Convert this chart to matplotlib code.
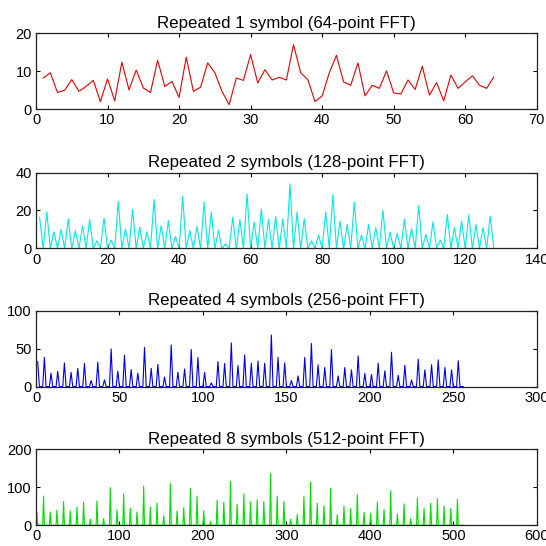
import numpy as np
import matplotlib
matplotlib.use("Agg")
import matplotlib.pyplot as plt

plt.rcParams['font.family'] = ['Liberation Sans', 'DejaVu Sans']

# peak heights (one value per original subcarrier)
peaks_1 = [8.2, 9.6, 4.4, 5.0, 7.8, 4.7, 6.0, 7.6, 2.0, 8.0, 2.2, 12.4, 5.1, 10.3, 5.6, 4.4,
           12.9, 6.0, 7.3, 3.1, 13.7, 4.7, 5.8, 12.2, 9.6, 4.7, 1.2, 8.2, 7.6, 14.4, 6.9, 10.4,
           7.7, 8.4, 7.7, 17.0, 9.6, 7.8, 2.0, 3.5, 9.6, 14.2, 7.2, 6.3, 12.2, 3.5, 6.3, 5.5,
           10.1, 4.3, 4.0, 7.7, 5.2, 11.3, 3.7, 7.0, 2.2, 9.0, 5.5, 7.2, 8.8, 6.3, 5.5, 8.5]
peaks_2 = [16.4, 19.2, 8.8, 10.0, 15.6, 9.4, 12.0, 15.2, 4.0, 16.0, 4.4, 24.8, 10.2, 20.6, 11.2, 8.8,
           25.8, 12.0, 14.6, 6.2, 27.4, 9.4, 11.6, 24.4, 19.2, 9.4, 2.4, 16.4, 15.2, 28.8, 13.8, 20.8,
           15.4, 16.8, 15.4, 34.0, 19.2, 15.6, 4.0, 7.0, 19.2, 28.4, 14.4, 12.6, 24.4, 7.0, 12.6, 11.0,
           20.2, 8.6, 8.0, 15.4, 10.4, 22.6, 7.4, 14.0, 4.4, 18.0, 11.0, 14.4, 17.6, 12.6, 11.0, 17.0]
peaks_4 = [32.8, 38.4, 17.6, 20.0, 31.2, 18.8, 24.0, 30.4, 8.0, 32.0, 8.8, 49.6, 20.4, 41.2, 22.4, 17.6,
           51.6, 24.0, 29.2, 12.4, 54.8, 18.8, 23.2, 48.8, 38.4, 18.8, 4.8, 32.8, 30.4, 57.6, 27.6, 41.6,
           30.8, 33.6, 30.8, 68.0, 38.4, 31.2, 8.0, 14.0, 38.4, 56.8, 28.8, 25.2, 48.8, 14.0, 25.2, 22.0,
           40.4, 17.2, 16.0, 30.8, 20.8, 45.2, 14.8, 28.0, 8.8, 36.0, 22.0, 28.8, 35.2, 25.2, 22.0, 34.0]
peaks_8 = [32.0, 76.8, 35.2, 40.0, 62.4, 37.6, 48.0, 60.8, 16.0, 64.0, 17.6, 99.2, 40.8, 82.4, 44.8, 35.2,
           103.2, 48.0, 58.4, 24.8, 109.6, 37.6, 46.4, 97.6, 76.8, 37.6, 9.6, 65.6, 60.8, 115.2, 55.2, 83.2,
           61.6, 67.2, 61.6, 136.0, 76.8, 62.4, 16.0, 28.0, 76.8, 113.6, 57.6, 50.4, 97.6, 28.0, 50.4, 44.0,
           80.8, 34.4, 32.0, 61.6, 41.6, 90.4, 29.6, 56.0, 17.6, 72.0, 44.0, 57.6, 70.4, 50.4, 44.0, 68.0]

repeats = [1, 2, 4, 8]
titles = ["Repeated 1 symbol (64-point FFT)", "Repeated 2 symbols (128-point FFT)",
          "Repeated 4 symbols (256-point FFT)", "Repeated 8 symbols (512-point FFT)"]
colors = ["#e00000", "#00e8e8", "#0000e0", "#00dd00"]
xlims = [70, 140, 300, 600]
xsteps = [10, 20, 50, 100]
ylims = [20, 40, 100, 200]
bottoms = [0.800, 0.545, 0.292, 0.038]

fig = plt.figure(figsize=(5.46, 5.46), dpi=100)

for i, peaks in enumerate([peaks_1, peaks_2, peaks_4, peaks_8]):
    n = repeats[i]
    # only every n-th bin is non-zero in the longer FFT
    spec = np.zeros(64 * n)
    spec[::n] = peaks
    x = np.arange(1, 64 * n + 1)

    ax = fig.add_axes([0.066, bottoms[i], 0.917, 0.139])
    ax.plot(x, spec, color=colors[i], lw=0.8)
    ax.set_xlim(0, xlims[i])
    ax.set_ylim(0, ylims[i])
    ax.set_xticks(np.arange(0, xlims[i] + 1, xsteps[i]))
    ax.set_yticks([0, ylims[i] / 2, ylims[i]])
    ax.set_yticklabels([str(v) for v in [0, ylims[i] // 2, ylims[i]]])
    ax.tick_params(direction='in', top=True, right=True, length=3, width=0.8,
                   labelsize=10.5, pad=3)
    for s in ax.spines.values():
        s.set_linewidth(0.9)
        s.set_color('#222222')
    ax.set_title(titles[i], fontsize=12.2, pad=4)

plt.savefig("out.png", dpi=100)
